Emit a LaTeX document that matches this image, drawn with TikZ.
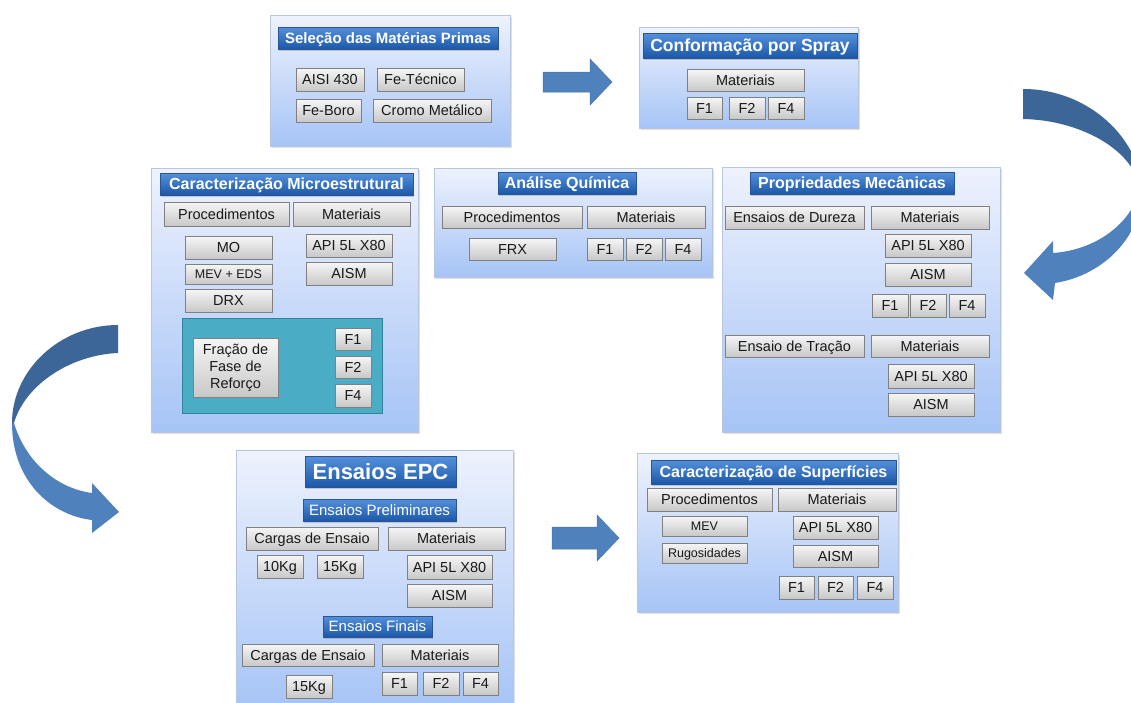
\documentclass[tikz,border=0pt]{standalone}
\usepackage{fontspec}
\setmainfont{Liberation Sans}
\usetikzlibrary{shadows}
\definecolor{boxtop}{RGB}{238,242,253}
\definecolor{boxbot}{RGB}{166,196,246}
\definecolor{boxline}{RGB}{184,198,222}
\definecolor{ttop}{RGB}{84,144,218}
\definecolor{tbot}{RGB}{28,88,168}
\definecolor{tline}{RGB}{40,85,150}
\definecolor{gtop}{RGB}{246,246,246}
\definecolor{gbot}{RGB}{200,200,200}
\definecolor{gline}{RGB}{128,128,128}
\definecolor{tealbox}{RGB}{75,172,198}
\definecolor{tealline}{RGB}{50,130,155}
\definecolor{arrlight}{RGB}{79,129,189}
\definecolor{arrdark}{RGB}{60,102,152}
\definecolor{arrline}{RGB}{70,115,170}
\tikzset{
  panel/.style={draw=boxline, line width=0.8pt, top color=boxtop, bottom color=boxbot,
    inner sep=0pt, outer sep=0pt,
    drop shadow={shadow xshift=1.5pt, shadow yshift=-1.5pt, opacity=0.25}},
  titlebar/.style={draw=tline, line width=0.5pt, top color=ttop, bottom color=tbot,
    text=white, font=\bfseries\fontsize{16}{19}\selectfont, inner sep=0pt, outer sep=0pt,
    text height=11.5pt, text depth=0pt,
    drop shadow={shadow xshift=1pt, shadow yshift=-1.5pt, opacity=0.35}},
  gb/.style={draw=gline, line width=0.6pt, top color=gtop, bottom color=gbot,
    text=black!90, font=\fontsize{14.5}{17}\selectfont, inner sep=0pt, outer sep=0pt,
    text height=10.4pt, text depth=0pt,
    drop shadow={shadow xshift=0.8pt, shadow yshift=-1pt, opacity=0.3}},
  smalltext/.style={font=\fontsize{12.5}{15}\selectfont, text height=9pt},
  blockarrow/.style={fill=arrlight, draw=arrline, line width=0.5pt},
  darkarrow/.style={fill=arrdark, draw=none},
  lightarrow/.style={fill=arrlight, draw=none}
}
\begin{document}
\begin{tikzpicture}[x=1pt, y=-1pt]
\clip (0,0) rectangle (1131,702);
\fill[white] (0,0) rectangle (1131,702);

% ---------- straight block arrows ----------
\path[blockarrow] (543,72) -- (590,72) -- (590,59) -- (612,82) -- (590,105) -- (590,92) -- (543,92) -- cycle;
\path[blockarrow] (552,527) -- (597,527) -- (597,515) -- (619,538) -- (597,561) -- (597,549) -- (552,549) -- cycle;

% ---------- curved arrows ----------
\path[darkarrow] (1023,89) .. controls (1090,89) and (1140,140) .. (1142,190)
  -- (1140,190) .. controls (1135,150) and (1080,120) .. (1023,119) -- cycle;
\path[lightarrow] (1142,190) .. controls (1142,235) and (1105,275) .. (1055,283)
  -- (1053,300) -- (1024,273) -- (1053,241) -- (1053,253)
  .. controls (1095,250) and (1130,225) .. (1140,190) -- cycle;

\path[darkarrow] (118,325) .. controls (60,325) and (12,370) .. (12,423)
  -- (14,423) .. controls (25,385) and (70,355) .. (118,353) -- cycle;
\path[lightarrow] (12,423) .. controls (12,480) and (50,515) .. (92,520)
  -- (92,533) -- (119,512) -- (92,483) -- (92,493)
  .. controls (55,488) and (25,460) .. (14,423) -- cycle;

% ---------- panel 1: Seleção ----------
\node[panel, minimum width=240, minimum height=131] (p1) at (390,80.5) {};
\node[titlebar, font=\bfseries\fontsize{15}{18}\selectfont, text height=10.8pt, minimum width=220, minimum height=22] (t1) at (388,38) {Seleção das Matérias Primas};
\node[gb, minimum width=68, minimum height=23] (s1a) at (330,79.5) {AISI 430};
\node[gb, minimum width=87, minimum height=23] (s1b) at (420.5,79.5) {Fe-Técnico};
\node[gb, minimum width=65, minimum height=23] (s1c) at (328.5,110.5) {Fe-Boro};
\node[gb, minimum width=118, minimum height=23] (s1d) at (432,110.5) {Cromo Metálico};

% ---------- panel 2: Conformação ----------
\node[panel, minimum width=219, minimum height=101] (p2) at (748.5,77.5) {};
\node[titlebar, font=\bfseries\fontsize{17.5}{20}\selectfont, text height=12.6pt, minimum width=214, minimum height=25] (t2) at (750,45.5) {Conformação por Spray};
\node[gb, minimum width=117, minimum height=22] (s2m) at (745.5,80) {Materiais};
\node[gb, minimum width=35, minimum height=22] (s2a) at (704.5,108) {F1};
\node[gb, minimum width=36, minimum height=22] (s2b) at (747,108) {F2};
\node[gb, minimum width=36, minimum height=22] (s2c) at (786,108) {F4};

% ---------- panel 3: Microestrutural ----------
\node[panel, minimum width=267, minimum height=264] (p3) at (284.5,300) {};
\node[titlebar, minimum width=253, minimum height=22] (t3) at (286.5,184) {Caracterização Microestrutural};
\node[gb, minimum width=125, minimum height=24] (s3p) at (226.5,214) {Procedimentos};
\node[gb, minimum width=117, minimum height=24] (s3m) at (351.5,214) {Materiais};
\node[gb, minimum width=87, minimum height=23] (s3a) at (228.5,247.5) {MO};
\node[gb, smalltext, minimum width=87, minimum height=20] (s3b) at (228.5,274) {MEV + EDS};
\node[gb, minimum width=87, minimum height=23] (s3c) at (228.5,300.5) {DRX};
\node[gb, minimum width=86, minimum height=23] (s3d) at (349,245.5) {API 5L X80};
\node[gb, minimum width=86, minimum height=23] (s3e) at (349,273.5) {AISM};
\node[draw=tealline, line width=0.6pt, fill=tealbox, minimum width=200, minimum height=95, inner sep=0pt] (tb) at (282,365.5) {};
\node[gb, align=center, text height=, text depth=, minimum width=85, minimum height=59] (s3f) at (235.5,367.5) {Fração de\\Fase de\\Reforço};
\node[gb, minimum width=36, minimum height=22] (s3g) at (353,339) {F1};
\node[gb, minimum width=36, minimum height=22] (s3h) at (353,367) {F2};
\node[gb, minimum width=36, minimum height=23] (s3i) at (353,395.5) {F4};

% ---------- panel 4: Análise Química ----------
\node[panel, minimum width=278, minimum height=109] (p4) at (573,222.5) {};
\node[titlebar, minimum width=138, minimum height=22] (t4) at (567,183) {Análise Química};
\node[gb, minimum width=140, minimum height=22] (s4p) at (512,217) {Procedimentos};
\node[gb, minimum width=118, minimum height=22] (s4m) at (646,217) {Materiais};
\node[gb, minimum width=87, minimum height=22] (s4a) at (512.5,249) {FRX};
\node[gb, minimum width=36, minimum height=22] (s4b) at (605,249) {F1};
\node[gb, minimum width=36, minimum height=22] (s4c) at (644,249) {F2};
\node[gb, minimum width=36, minimum height=22] (s4d) at (683,249) {F4};

% ---------- panel 5: Propriedades Mecânicas ----------
\node[panel, minimum width=278, minimum height=265] (p5) at (861,299.5) {};
\node[titlebar, minimum width=204, minimum height=22] (t5) at (852,183) {Propriedades Mecânicas};
\node[gb, minimum width=139, minimum height=23] (s5d) at (794.5,217.5) {Ensaios de Dureza};
\node[gb, minimum width=118, minimum height=23] (s5m) at (930,217.5) {Materiais};
\node[gb, minimum width=86, minimum height=23] (s5a) at (928,245.5) {API 5L X80};
\node[gb, minimum width=86, minimum height=23] (s5b) at (928,274.5) {AISM};
\node[gb, minimum width=36, minimum height=23] (s5c) at (890,305.5) {F1};
\node[gb, minimum width=36, minimum height=23] (s5e) at (928,305.5) {F2};
\node[gb, minimum width=36, minimum height=23] (s5f) at (967,305.5) {F4};
\node[gb, minimum width=139, minimum height=22] (s5t) at (794.5,346) {Ensaio de Tração};
\node[gb, minimum width=118, minimum height=22] (s5n) at (930,346) {Materiais};
\node[gb, minimum width=86, minimum height=24] (s5g) at (931,376) {API 5L X80};
\node[gb, minimum width=86, minimum height=23] (s5h) at (931,404.5) {AISM};

% ---------- panel 6: Ensaios EPC ----------
\node[panel, minimum width=277, minimum height=257] (p6) at (374.5,578.5) {};
\node[titlebar, font=\bfseries\fontsize{22}{26}\selectfont, text height=15.8pt, minimum width=151, minimum height=31] (t6) at (380.5,471.5) {Ensaios EPC};
\node[titlebar, font=\fontsize{15}{18}\selectfont, text height=10.8pt, minimum width=153, minimum height=22] (t6a) at (379.5,510) {Ensaios Preliminares};
\node[gb, minimum width=132, minimum height=23] (s6c) at (312,538.5) {Cargas de Ensaio};
\node[gb, minimum width=117, minimum height=23] (s6m) at (446.5,538.5) {Materiais};
\node[gb, minimum width=46, minimum height=23] (s6a) at (280,566.5) {10Kg};
\node[gb, minimum width=46, minimum height=23] (s6b) at (340,566.5) {15Kg};
\node[gb, minimum width=85, minimum height=24] (s6d) at (449.5,567) {API 5L X80};
\node[gb, minimum width=85, minimum height=23] (s6e) at (449.5,595.5) {AISM};
\node[titlebar, font=\fontsize{15}{18}\selectfont, text height=10.8pt, minimum width=109, minimum height=21] (t6b) at (377.5,626.5) {Ensaios Finais};
\node[gb, minimum width=132, minimum height=22] (s6f) at (308,655) {Cargas de Ensaio};
\node[gb, minimum width=116, minimum height=22] (s6n) at (440,655) {Materiais};
\node[gb, minimum width=46, minimum height=23] (s6g) at (309,686.5) {15Kg};
\node[gb, minimum width=35, minimum height=23] (s6h) at (399.5,683.5) {F1};
\node[gb, minimum width=36, minimum height=23] (s6i) at (441,683.5) {F2};
\node[gb, minimum width=35, minimum height=23] (s6j) at (480.5,683.5) {F4};

% ---------- panel 7: Superfícies ----------
\node[panel, minimum width=261, minimum height=159] (p7) at (767.5,532.5) {};
\node[titlebar, minimum width=245, minimum height=24] (t7) at (773.5,472) {Caracterização de Superfícies};
\node[gb, minimum width=125, minimum height=23] (s7p) at (709.5,499.5) {Procedimentos};
\node[gb, minimum width=118, minimum height=23] (s7m) at (837,499.5) {Materiais};
\node[gb, smalltext, minimum width=85, minimum height=20] (s7a) at (704.5,526) {MEV};
\node[gb, smalltext, minimum width=85, minimum height=20] (s7b) at (704.5,553) {Rugosidades};
\node[gb, minimum width=85, minimum height=23] (s7c) at (835.5,527.5) {API 5L X80};
\node[gb, minimum width=85, minimum height=22] (s7d) at (835.5,556) {AISM};
\node[gb, minimum width=35, minimum height=23] (s7e) at (796.5,587.5) {F1};
\node[gb, minimum width=35, minimum height=23] (s7f) at (835.5,587.5) {F2};
\node[gb, minimum width=36, minimum height=23] (s7g) at (875,587.5) {F4};
\end{tikzpicture}
\end{document}
